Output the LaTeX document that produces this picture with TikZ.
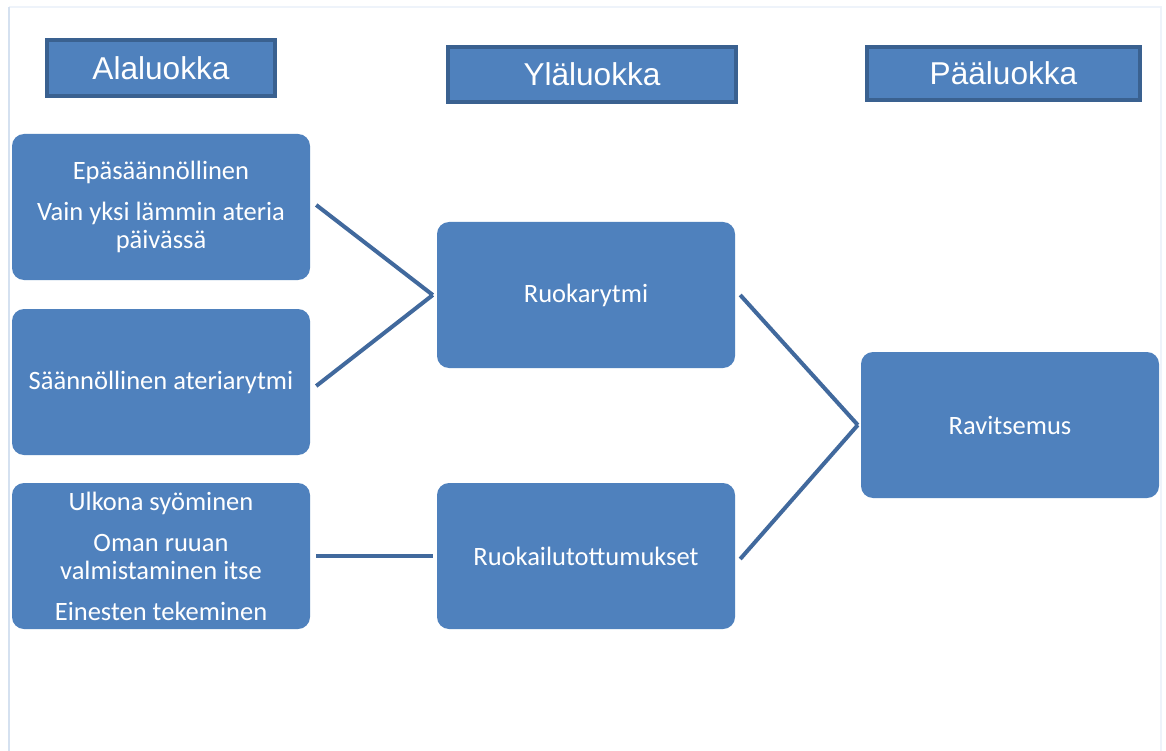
\documentclass[tikz,border=0pt]{standalone}
\usepackage{fontspec}
\setmainfont{Carlito}
\newfontfamily\headfont{Liberation Sans}
\definecolor{boxfill}{HTML}{4F81BD}
\definecolor{boxedge}{HTML}{3A6190}
\definecolor{linkcol}{HTML}{41699D}
\definecolor{framecol}{HTML}{D5E1F0}
\definecolor{topframe}{HTML}{EEF3FA}
\tikzset{
  headbox/.style={draw=boxedge, line width=4pt, fill=boxfill, text=white,
    inner sep=0pt, font=\headfont\fontsize{31.6}{36}\selectfont},
  catbox/.style={fill=boxfill, rounded corners=12pt, text=white, align=center,
    inner sep=0pt, minimum width=298pt, minimum height=146pt,
    font=\fontsize{26.5}{28}\selectfont},
  link/.style={draw=linkcol, line width=4pt}
}
\begin{document}
\begin{tikzpicture}[x=1pt,y=-1pt]
\useasboundingbox (0,0) rectangle (1166,751);
\fill[white] (0,0) rectangle (1166,751);
% page frame
\draw[topframe, line width=1.5pt] (9,7) -- (1161,7) -- (1161,751);
\draw[framecol, line width=1.5pt] (9,751) -- (9,7);

% column headings
\node[headbox, minimum width=228pt, minimum height=56pt] (hA) at (161,68) {Alaluokka};
\node[headbox, minimum width=288pt, minimum height=55pt] (hY) at (592,74.5) {Yläluokka};
\node[headbox, minimum width=273pt, minimum height=53pt] (hP) at (1003.5,73.5) {Pääluokka};

% lower categories
\node[catbox] (a1) at (161,207) {Epäsäännöllinen\\[13pt]Vain yksi lämmin ateria\\päivässä};
\node[catbox] (a2) at (161,382) {Säännöllinen ateriarytmi};
\node[catbox] (a3) at (161,556) {Ulkona syöminen\\[13pt]Oman ruuan\\valmistaminen itse\\[13pt]Einesten tekeminen};

% upper categories
\node[catbox] (ry) at (586,295) {Ruokarytmi};
\node[catbox] (rt) at (586,556) {Ruokailutottumukset};

% main category
\node[catbox] (rv) at (1010,425) {Ravitsemus};

% connectors
\draw[link] ([xshift=6pt,yshift=2pt]a1.east) -- ([xshift=-4pt]ry.west);
\draw[link] ([xshift=6pt,yshift=-4pt]a2.east) -- ([xshift=-4pt]ry.west);
\draw[link] ([xshift=6pt]a3.east) -- ([xshift=-4pt]rt.west);
\draw[link] ([xshift=5pt]ry.east) -- ([xshift=-3pt]rv.west);
\draw[link] ([xshift=5pt,yshift=-3pt]rt.east) -- ([xshift=-3pt]rv.west);
\end{tikzpicture}
\end{document}
